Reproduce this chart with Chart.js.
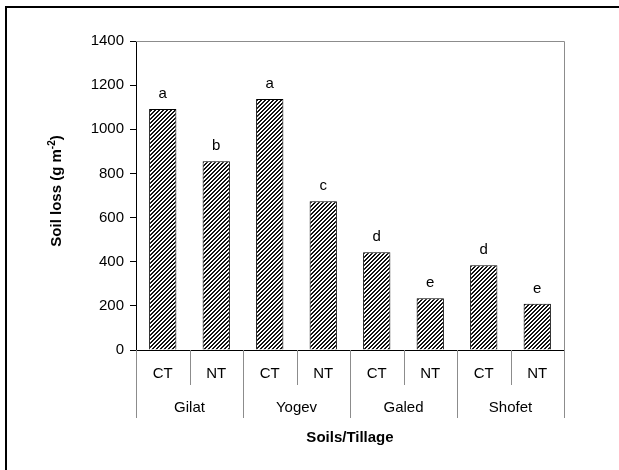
<!DOCTYPE html>
<html>
<head>
<meta charset="utf-8">
<script src="https://cdn.jsdelivr.net/npm/chart.js@4"></script>
<style>
  body { margin: 0; background: #fff; }
  #wrap { width: 619px; height: 470px; }
</style>
</head>
<body>
<div id="wrap"><canvas id="chart" width="619" height="470"></canvas></div>
<script>
// data
const tillage = ['CT', 'NT', 'CT', 'NT', 'CT', 'NT', 'CT', 'NT'];
const soils = ['Gilat', 'Yogev', 'Galed', 'Shofet'];
const soilLoss = [1092, 855, 1137, 674, 443, 234, 384, 210];
const letters = ['a', 'b', 'a', 'c', 'd', 'e', 'd', 'e'];
const yTicks = [0, 200, 400, 600, 800, 1000, 1200, 1400];

const FONT = '"Liberation Sans", Arial, sans-serif';
const GREY = '#8c8c8c';

// diagonal hatch fill, crisp 2px stripes
function hatch() {
    const c = document.createElement('canvas');
    c.width = 4;
    c.height = 4;
    const g = c.getContext('2d');
    g.fillStyle = '#fff';
    g.fillRect(0, 0, 4, 4);
    g.fillStyle = '#111';
    for (let py = 0; py < 4; py++) {
        for (let px = 0; px < 4; px++) {
            if ((px + py) % 4 < 2) g.fillRect(px, py, 1, 1);
        }
    }
    return g.createPattern(c, 'repeat');
}

const decor = {
    id: 'decor',
    afterDraw(chart) {
        const ctx = chart.ctx;
        const area = chart.chartArea;
        const x = chart.scales.x;
        ctx.save();

        // outer frame (only top/left fall inside the picture)
        ctx.strokeStyle = '#000';
        ctx.lineWidth = 2;
        ctx.strokeRect(6, 7, 700, 600);

        // plot area top / right border
        ctx.strokeStyle = GREY;
        ctx.lineWidth = 1;
        ctx.beginPath();
        ctx.moveTo(area.left, area.top + 0.5);
        ctx.lineTo(area.right + 0.5, area.top + 0.5);
        ctx.lineTo(area.right + 0.5, area.bottom);
        ctx.stroke();

        // category dividers
        for (let i = 0; i <= tillage.length; i++) {
            const px = Math.round(x.getPixelForValue(i - 0.5)) + 0.5;
            const len = i % 2 === 0 ? 68 : 35;
            ctx.beginPath();
            ctx.moveTo(px, area.bottom);
            ctx.lineTo(px, area.bottom + len);
            ctx.stroke();
        }

        // tier labels
        ctx.fillStyle = '#000';
        ctx.font = '15px ' + FONT;
        ctx.textAlign = 'center';
        ctx.textBaseline = 'middle';
        tillage.forEach((t, i) => {
            ctx.fillText(t, x.getPixelForValue(i), area.bottom + 24);
        });
        soils.forEach((s, j) => {
            ctx.fillText(s, x.getPixelForValue(2 * j + 0.5), area.bottom + 58);
        });

        // letters above bars
        const meta = chart.getDatasetMeta(0);
        ctx.textBaseline = 'alphabetic';
        meta.data.forEach((bar, i) => {
            ctx.fillText(letters[i], bar.x, bar.y - 11);
        });

        // axis titles
        ctx.font = 'bold 15px ' + FONT;
        ctx.fillText('Soils/Tillage', (area.left + area.right) / 2, 442);

        ctx.translate(61, 191);
        ctx.rotate(-Math.PI / 2);
        const main = 'Soil loss (g m';
        const sup = '-2';
        const tail = ')';
        ctx.font = 'bold 15px ' + FONT;
        const wMain = ctx.measureText(main).width;
        const wTail = ctx.measureText(tail).width;
        ctx.font = 'bold 10px ' + FONT;
        const wSup = ctx.measureText(sup).width;
        let cx = -(wMain + wSup + wTail) / 2;
        ctx.textAlign = 'left';
        ctx.font = 'bold 15px ' + FONT;
        ctx.fillText(main, cx, 0);
        cx += wMain;
        ctx.font = 'bold 10px ' + FONT;
        ctx.fillText(sup, cx, -6);
        cx += wSup;
        ctx.font = 'bold 15px ' + FONT;
        ctx.fillText(tail, cx, 0);

        ctx.restore();
    }
};

new Chart(document.getElementById('chart'), {
    type: 'bar',
    data: {
        labels: tillage,
        datasets: [{
            data: soilLoss,
            backgroundColor: hatch(),
            borderColor: '#000',
            borderWidth: 1,
            barPercentage: 0.51,
            categoryPercentage: 1
        }]
    },
    options: {
        responsive: false,
        animation: false,
        devicePixelRatio: 1,
        layout: {padding: {top: 41, right: 55, left: 0, bottom: 0}},
        plugins: {legend: {display: false}, tooltip: {enabled: false}},
        scales: {
            x: {
                grid: {display: false},
                ticks: {display: false},
                border: {display: true, color: '#000', width: 1},
                afterFit(scale) { scale.height = 120; }
            },
            y: {
                min: 0,
                max: 1400,
                afterBuildTicks(scale) { scale.ticks = yTicks.map(v => ({value: v})); },
                grid: {drawOnChartArea: false, drawTicks: true, tickLength: 6, color: '#000'},
                border: {display: true, color: '#000', width: 1},
                ticks: {
                    color: '#000',
                    padding: 6,
                    font: {family: FONT, size: 15},
                    callback: v => String(v)
                },
                afterFit(scale) { scale.width = 136; }
            }
        }
    },
    plugins: [decor]
});
</script>
</body>
</html>
